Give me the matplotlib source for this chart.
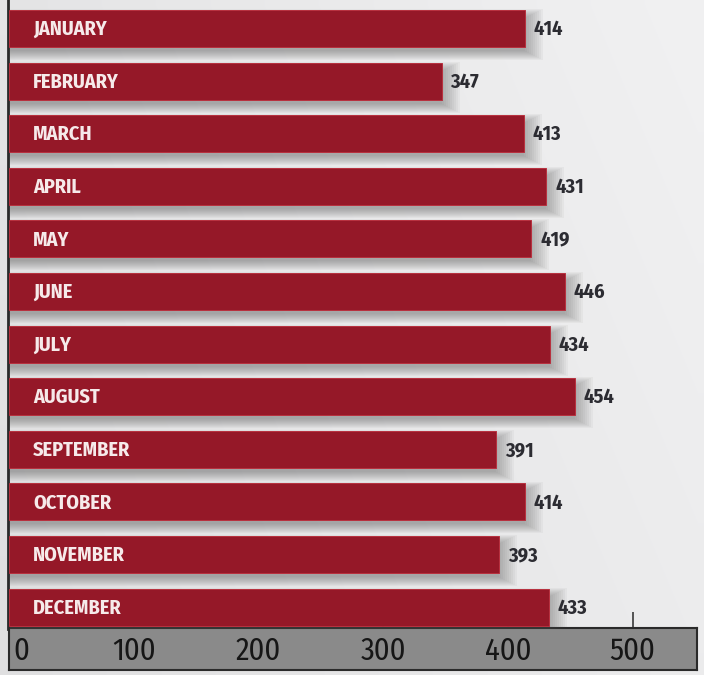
import matplotlib
matplotlib.use("Agg")
import matplotlib.pyplot as plt
import numpy as np

months = ["JANUARY", "FEBRUARY", "MARCH", "APRIL", "MAY", "JUNE", "JULY",
          "AUGUST", "SEPTEMBER", "OCTOBER", "NOVEMBER", "DECEMBER"]
values = [414, 347, 413, 431, 419, 446, 434, 454, 391, 414, 393, 433]
scale_ticks = [0, 100, 200, 300, 400, 500]

FONT = ['Fira Sans Condensed', 'PT Sans Narrow', 'DejaVu Sans']
BAR = '#951828'

W, H = 704, 675
fig = plt.figure(figsize=(W / 100, H / 100), dpi=100)
fig.patch.set_facecolor('#e2e2e0')

# subtle paper gradient
bg = fig.add_axes([0, 0, 1, 1], zorder=0)
gx = np.linspace(0, 1, 64)
gy = np.linspace(0, 1, 64)
GX, GY = np.meshgrid(gx, gy)
grad = np.dstack([0.875 + 0.05 * GX + 0.02 * GY] * 3)
grad[..., 2] += 0.004
bg.imshow(np.clip(grad, 0, 1), aspect='auto', extent=[0, 1, 0, 1],
          interpolation='bilinear', origin='lower')
bg.set_axis_off()

px = 1.248  # pixels per data unit
x0px = 8.5
def fx(p):
    return (p - x0px) / px

# bottom scale band
bax = fig.add_axes([9 / W, 1 - 670 / H, (697 - 9) / W, (670 - 628) / H], zorder=1)
bax.set_facecolor('#8a8a8a')
bax.set_xlim(fx(9), fx(697))
bax.set_ylim(0, 1)
bax.set_yticks([])
bax.set_xticks(scale_ticks)
bax.tick_params(axis='x', which='both', bottom=False, top=True, labelbottom=False,
                direction='out', length=11.5, width=1.2, color='#3a3a3a')
for s in bax.spines.values():
    s.set_color('#2a2a2a')
    s.set_linewidth(1.5)
for t in scale_ticks:
    if t == 0:
        bax.text(t + fx(13) - fx(x0px), 0.45, str(t), ha='left', va='center',
                 fontsize=22, family=FONT, color='#161616')
    else:
        bax.text(t, 0.45, str(t), ha='center', va='center',
                 fontsize=22, family=FONT, color='#161616')

# main bars
ax = fig.add_axes([8 / W, 1 - 629 / H, (W - 8) / W, 629 / H], zorder=2)
ax.set_facecolor('none')
ax.set_xlim(fx(8), fx(W))
rowpx = 52.6
ax.set_ylim((629 - 28.5) / rowpx, -28.5 / rowpx)
y = np.arange(len(months))
h = 37 / rowpx

# blurred drop shadows
vals = np.array(values, dtype=float)
for k in range(10):
    grow = -4 + k * 2.0  # px
    ax.barh(y + 6 / rowpx, vals + (4 + grow) / px, height=h + grow / rowpx,
            left=0, color='#505050', alpha=0.05, zorder=1, linewidth=0)

ax.barh(y, vals, height=h, color=BAR, edgecolor='#b8303e', linewidth=0.7, zorder=3)

for yi, m, v in zip(y, months, values):
    ax.text(fx(33), yi + 0.02, m, ha='left', va='center', fontsize=14.5,
            fontweight='bold', family=FONT, color='#f6eaea', zorder=4)
    ax.text(v + 7, yi + 0.02, str(v), ha='left', va='center', fontsize=14.5,
            fontweight='bold', family=FONT, color='#2c2c32', zorder=4)

for side in ['top', 'right', 'bottom']:
    ax.spines[side].set_visible(False)
ax.spines['left'].set_color('#2a2a2a')
ax.spines['left'].set_linewidth(2)
ax.set_xticks([])
ax.set_yticks([])

fig.savefig('out.png', dpi=100, facecolor=fig.get_facecolor())
